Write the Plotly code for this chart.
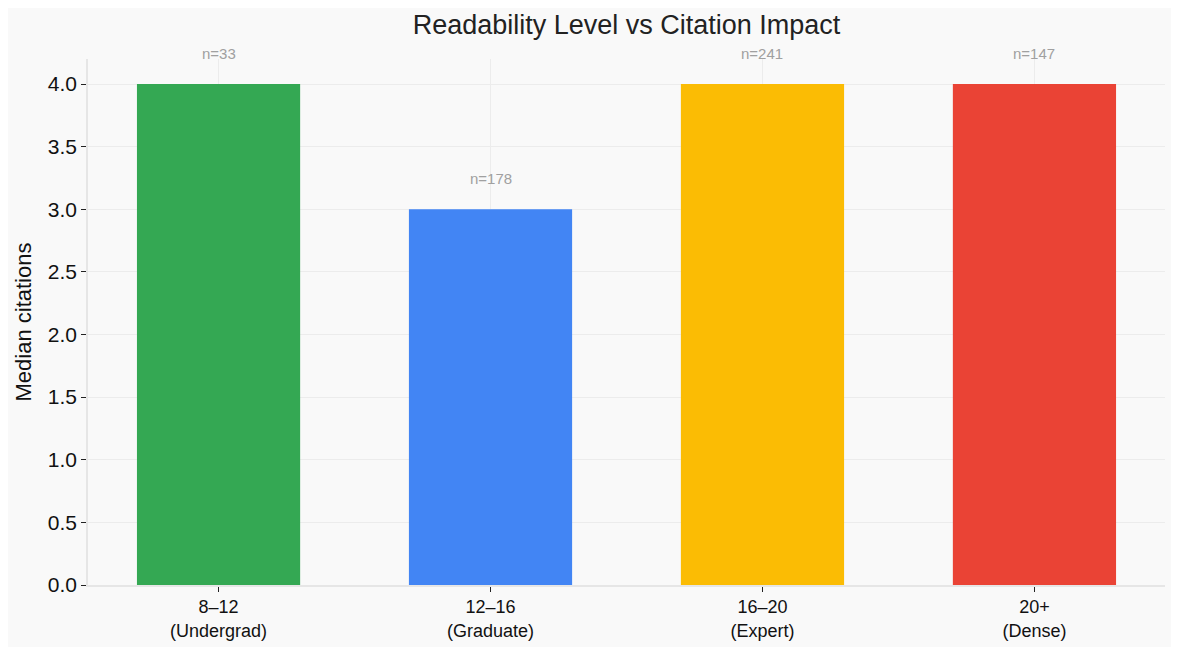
import plotly.graph_objects as go

# readability bins (Flesch-Kincaid grade) vs median citations
levels = ["8–12<br>(Undergrad)", "12–16<br>(Graduate)", "16–20<br>(Expert)", "20+<br>(Dense)"]
median_citations = [4, 3, 4, 4]
counts = [33, 178, 241, 147]
colors = ["#34A853", "#4285F4", "#FBBC04", "#EA4335"]

font = "Liberation Sans, Arial, sans-serif"
xs = list(range(len(levels)))

fig = go.Figure()
fig.add_trace(go.Bar(
    x=xs, y=median_citations,
    marker=dict(color=colors, line=dict(width=0)),
    width=0.6,
    showlegend=False,
))

# sample size labels above each bar
for x, v, n in zip(xs, median_citations, counts):
    fig.add_annotation(x=x, y=v, text="n=%d" % n, showarrow=False,
                       yshift=31, font=dict(size=15, color="#a0a0a0"))

# page body adds an 8px margin, so the figure is a bit smaller than the window
fig.update_layout(
    width=1163, height=639,
    paper_bgcolor="#f9f9f9", plot_bgcolor="#f9f9f9",
    margin=dict(l=80, r=6, t=51, b=60),
    font=dict(family=font, color="#111111"),
    title=dict(text="Readability Level vs Citation Impact", x=0.5, xanchor="center",
               xref="paper", y=1 - 17 / 639, yanchor="middle",
               font=dict(size=27, color="#222222")),
)
fig.update_xaxes(
    tickmode="array", tickvals=xs, ticktext=levels,
    range=[-0.48, 3.48], ticks="outside", ticklen=5, tickcolor="#222222",
    tickfont=dict(size=18), showgrid=True, gridcolor="#ececec",
    showline=True, linecolor="#e6e6e6", linewidth=1.5, zeroline=False,
)
fig.update_yaxes(
    range=[0, 4.2], dtick=0.5, tickformat=".1f", ticks="outside", ticklen=5,
    tickcolor="#222222", tickfont=dict(size=21), showgrid=True, gridcolor="#ececec",
    showline=True, linecolor="#e6e6e6", linewidth=1.5, zeroline=False,
    title=dict(text="Median citations", font=dict(size=22), standoff=10),
)

fig.write_html("out.html")
